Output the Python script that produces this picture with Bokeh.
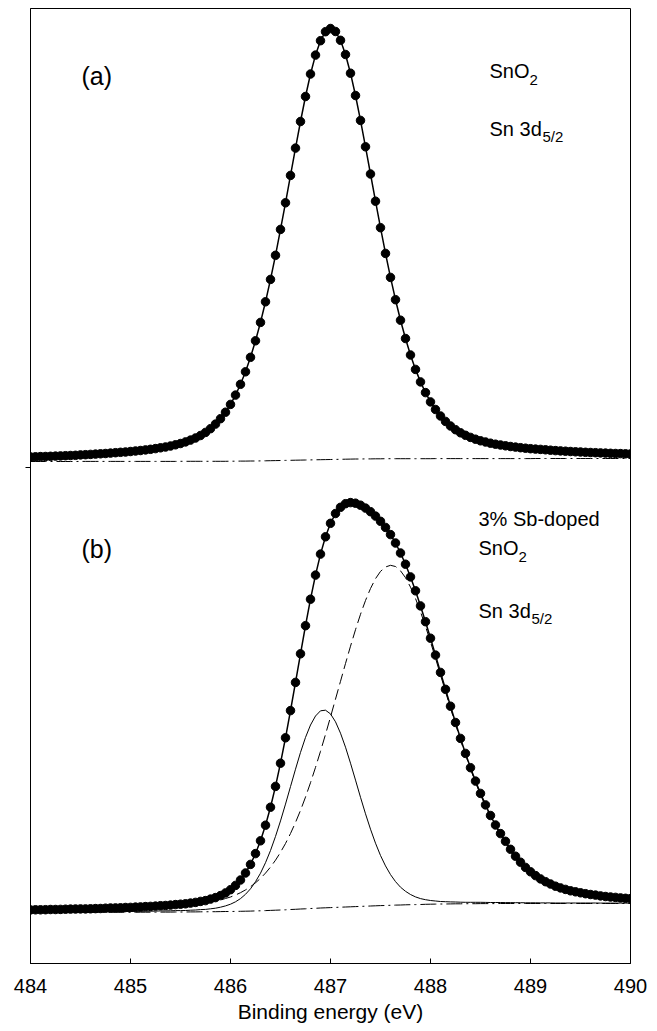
from bokeh.plotting import figure
from bokeh.models import Range1d, LinearAxis, FixedTicker, ColumnDataSource
from bokeh.core.properties import value
from bokeh.embed import file_html
from bokeh.resources import INLINE

# ---------------- data ----------------
# binding energy grid (eV), 0.05 eV step
energy = [round(484 + 0.05 * i, 2) for i in range(121)]

# panel (a): SnO2, Sn 3d5/2 (intensity, a.u.)
a_counts = [
    4.6, 4.7, 4.9, 5.0, 5.2, 5.4, 5.6, 5.8, 6.0, 6.2,
    6.6, 6.8, 7.1, 7.4, 7.7, 8.0, 8.4, 8.8, 9.2, 9.5,
    10.0, 10.5, 11.0, 11.6, 12.2, 12.9, 13.7, 14.5, 15.5, 16.7,
    18.0, 19.6, 21.4, 23.5, 26.0, 29.1, 32.8, 37.4, 42.8, 49.3,
    57.1, 66.4, 77.2, 89.7, 104.2, 120.7, 139.1, 159.7, 182.1, 206.2,
    232.1, 258.7, 286.1, 313.4, 340.0, 365.0, 387.5, 406.4, 420.8, 429.8,
    433.0,
    430.0, 421.2, 407.0, 388.3, 366.0, 341.1, 314.7, 287.5, 260.3, 233.8,
    208.1, 184.1, 161.8, 141.3, 123.0, 106.5, 92.1, 79.6, 68.9, 59.6,
    52.0, 45.5, 40.1, 35.5, 31.8, 28.7, 26.2, 24.1, 22.3, 20.7,
    19.5, 18.3, 17.3, 16.5, 15.7, 15.0, 14.4, 13.8, 13.3, 12.8,
    12.4, 12.1, 11.7, 11.3, 10.9, 10.6, 10.3, 10.0, 9.7, 9.5,
    9.2, 9.0, 8.8, 8.6, 8.4, 8.2, 8.0, 7.9, 7.7, 7.6,
]
a_background = [
    0.0, 0.0, 0.0, 0.0, 0.0, 0.0, 0.0, 0.0, 0.0, 0.0,
    0.1, 0.1, 0.1, 0.1, 0.1, 0.1, 0.1, 0.1, 0.1, 0.1,
    0.1, 0.1, 0.1, 0.1, 0.1, 0.1, 0.1, 0.1, 0.1, 0.1,
    0.2, 0.2, 0.2, 0.2, 0.2, 0.2, 0.2, 0.2, 0.2, 0.2,
    0.3, 0.3, 0.4, 0.4, 0.5, 0.5, 0.6, 0.7, 0.8, 0.9,
    1.0, 1.1, 1.2, 1.3, 1.4, 1.5, 1.6, 1.7, 1.8, 1.9,
    2.0, 2.1, 2.2, 2.3, 2.4, 2.5, 2.5, 2.6, 2.6, 2.7,
    2.7, 2.8, 2.8, 2.8, 2.8, 2.8, 2.8, 2.8, 2.8, 2.8,
    2.8, 2.9, 2.9, 2.9, 2.9, 2.9, 2.9, 2.9, 2.9, 2.9,
    2.9, 2.9, 2.9, 2.9, 2.9, 2.9, 2.9, 2.9, 2.9, 2.9,
    2.9, 3.0, 3.0, 3.0, 3.0, 3.0, 3.0, 3.0, 3.0, 3.0,
    3.0, 3.0, 3.0, 3.0, 3.0, 3.0, 3.0, 3.0, 3.0, 3.0,
    3.0,
]

# panel (b): 3% Sb-doped SnO2, Sn 3d5/2
b_counts = [
    2.6, 2.7, 2.7, 2.8, 3.0, 3.0, 3.1, 3.3, 3.4, 3.5,
    3.6, 3.6, 3.7, 3.9, 4.0, 4.3, 4.5, 4.6, 4.7, 5.0,
    5.1, 5.4, 5.6, 5.9, 6.1, 6.4, 6.8, 7.0, 7.4, 7.9,
    8.3, 8.7, 9.4, 10.1, 11.1, 11.9, 13.4, 14.9, 16.9, 19.6,
    22.8, 27.1, 32.5, 39.5, 48.1, 58.9, 71.7, 87.3, 105.3, 126.1,
    149.3, 174.7, 201.9, 230.1, 258.7, 286.8, 313.3, 337.4, 358.4, 375.7,
    389.2, 399.0, 405.2, 408.8, 409.9, 409.3, 407.3, 404.4, 400.8, 396.4,
    391.2, 385.1, 377.9, 369.5, 359.5, 348.3, 335.6, 321.7, 306.6, 290.8,
    274.3, 257.4, 240.1, 223.2, 206.3, 190.0, 174.1, 159.1, 144.8, 131.4,
    119.1, 107.6, 97.0, 87.5, 78.9, 71.2, 63.2, 56.3, 50.3, 45.1,
    40.7, 36.9, 33.6, 30.8, 28.5, 26.3, 24.6, 23.1, 21.7, 20.7,
    19.7, 18.8, 18.0, 17.4, 16.6, 16.0, 15.5, 15.1, 14.6, 14.2,
    13.9,
]
b_background = [
    0.0, 0.0, 0.0, 0.0, 0.0, 0.0, 0.0, 0.1, 0.1, 0.1,
    0.1, 0.1, 0.1, 0.1, 0.1, 0.2, 0.2, 0.2, 0.2, 0.2,
    0.2, 0.2, 0.3, 0.3, 0.3, 0.3, 0.4, 0.4, 0.4, 0.5,
    0.5, 0.5, 0.6, 0.6, 0.7, 0.7, 0.8, 0.8, 0.9, 1.0,
    1.0, 1.1, 1.2, 1.3, 1.4, 1.6, 1.7, 1.9, 2.1, 2.3,
    2.5, 2.7, 3.0, 3.2, 3.5, 3.7, 4.0, 4.2, 4.5, 4.7,
    4.9, 5.1, 5.3, 5.5, 5.7, 5.9, 6.1, 6.3, 6.5, 6.7,
    6.9, 7.0, 7.2, 7.4, 7.5, 7.7, 7.8, 7.9, 8.0, 8.2,
    8.3, 8.4, 8.5, 8.5, 8.6, 8.7, 8.7, 8.8, 8.8, 8.8,
    8.9, 8.9, 8.9, 8.9, 9.0, 9.0, 9.0, 9.0, 9.0, 9.0,
    9.0, 9.0, 9.0, 9.0, 9.0, 9.0, 9.0, 9.0, 9.0, 9.0,
    9.0, 9.0, 9.0, 9.0, 9.0, 9.0, 9.0, 9.0, 9.0, 9.0,
    9.0,
]
b_comp1 = [  # lower-BE component (solid line)
    0.4, 0.4, 0.4, 0.4, 0.5, 0.5, 0.5, 0.5, 0.5, 0.5,
    0.5, 0.5, 0.5, 0.6, 0.6, 0.6, 0.7, 0.7, 0.7, 0.8,
    0.8, 0.9, 0.9, 1.0, 1.0, 1.1, 1.2, 1.2, 1.3, 1.4,
    1.4, 1.5, 1.7, 1.9, 2.2, 2.4, 2.9, 3.5, 4.4, 5.6,
    7.3, 9.6, 12.7, 16.9, 22.3, 29.2, 37.6, 47.9, 59.9, 73.8,
    89.1, 105.7, 122.9, 140.1, 156.6, 171.4, 183.5, 192.3, 197.2, 197.6,
    193.7, 185.6, 174.0, 159.8, 143.6, 126.5, 109.1, 92.4, 76.8, 62.6,
    50.1, 39.6, 30.7, 23.5, 17.8, 13.5, 10.2, 7.7, 5.9, 4.6,
    3.7, 3.1, 2.5, 2.3, 2.0, 1.8, 1.6, 1.4, 1.4, 1.4,
    1.3, 1.2, 1.1, 1.1, 1.0, 0.9, 0.9, 0.8, 0.8, 0.7,
    0.7, 0.7, 0.6, 0.6, 0.6, 0.5, 0.5, 0.5, 0.5, 0.5,
    0.5, 0.5, 0.5, 0.5, 0.4, 0.4, 0.4, 0.4, 0.4, 0.4,
    0.4,
]
b_comp2 = [  # higher-BE component (dashed line)
    2.2, 2.3, 2.3, 2.4, 2.5, 2.5, 2.6, 2.7, 2.8, 2.9,
    3.0, 3.0, 3.1, 3.2, 3.3, 3.5, 3.6, 3.7, 3.8, 4.0,
    4.1, 4.3, 4.4, 4.6, 4.8, 5.0, 5.2, 5.4, 5.7, 6.0,
    6.4, 6.7, 7.1, 7.6, 8.2, 8.8, 9.7, 10.6, 11.6, 13.0,
    14.5, 16.4, 18.6, 21.3, 24.4, 28.1, 32.4, 37.5, 43.3, 50.0,
    57.7, 66.3, 76.0, 86.8, 98.6, 111.7, 125.8, 140.9, 156.7, 173.4,
    190.6, 208.3, 225.9, 243.5, 260.6, 276.9, 292.1, 305.7, 317.5, 327.1,
    334.2, 338.5, 340.0, 338.6, 334.2, 327.1, 317.6, 306.1, 292.7, 278.0,
    262.3, 245.9, 229.1, 212.4, 195.7, 179.5, 163.8, 148.9, 134.6, 121.2,
    108.9, 97.5, 87.0, 77.5, 68.9, 61.3, 53.3, 46.5, 40.5, 35.4,
    31.0, 27.2, 24.0, 21.2, 18.9, 16.8, 15.1, 13.6, 12.2, 11.2,
    10.2, 9.3, 8.5, 7.9, 7.2, 6.6, 6.1, 5.7, 5.2, 4.8,
    4.5,
]

x_ticks = [484, 485, 486, 487, 488, 489, 490]
x_title = "Binding energy (eV)"
panel_tags = ["(a)", "(b)"]
a_notes = ["SnO", "2", "Sn 3d", "5/2"]
b_notes = ["3% Sb-doped", "SnO", "2", "Sn 3d", "5/2"]

# ---------------- layout constants ----------------
OFF_A = 502      # vertical offset of panel (a) in stacked plot units
OFF_B = 51       # vertical offset of panel (b)
SPLIT = 496      # panel boundary tick
FONT = "Liberation Sans"
FS = "20px"
FS_TAG = "25px"
FS_SUB = "15px"

p = figure(width=657, height=1031, output_backend="svg", toolbar_location=None,
           x_range=Range1d(484, 490), y_range=Range1d(0, 955),
           min_border_left=30, min_border_right=27, min_border_top=8,
           min_border_bottom=68, x_axis_location=None, y_axis_location=None)
p.background_fill_color = "white"
p.border_fill_color = "white"
p.outline_line_color = "black"
p.outline_line_width = 1
p.xgrid.grid_line_color = None
p.ygrid.grid_line_color = None

xa = LinearAxis(ticker=FixedTicker(ticks=x_ticks), axis_label=x_title)
xa.major_tick_in = 5
xa.major_tick_out = 0
xa.minor_tick_line_color = None
xa.major_label_text_font = FONT
xa.major_label_text_font_size = FS
xa.major_label_text_color = "black"
xa.major_label_standoff = 15
xa.axis_label_text_font = FONT
xa.axis_label_text_font_size = "21px"
xa.axis_label_text_font_style = "normal"
xa.axis_label_text_color = "black"
xa.axis_label_standoff = 4
xa.axis_line_color = "black"
p.add_layout(xa, "below")

ya = LinearAxis(ticker=FixedTicker(ticks=[SPLIT]))
ya.major_tick_out = 5
ya.major_tick_in = 0
ya.minor_tick_line_color = None
ya.major_label_overrides = {SPLIT: ""}
ya.major_label_text_font_size = "1px"
ya.axis_line_color = "black"
p.add_layout(ya, "left")

# panel (a)
src_a = ColumnDataSource(dict(
    x=energy,
    y=[v + OFF_A for v in a_counts],
    bg=[v + OFF_A for v in a_background],
))
p.line("x", "bg", source=src_a, line_color="black", line_width=1, line_dash="16 4 2 4")
p.line("x", "y", source=src_a, line_color="black", line_width=1.5)
p.scatter("x", "y", source=src_a, size=8.5, fill_color="black", line_color="black")

# panel (b)
fit_b = [bg + c1 + c2 for bg, c1, c2 in zip(b_background, b_comp1, b_comp2)]
src_b = ColumnDataSource(dict(
    x=energy,
    y=[v + OFF_B for v in b_counts],
    fit=[v + OFF_B for v in fit_b],
    bg=[v + OFF_B for v in b_background],
    c1=[bg + c + OFF_B for bg, c in zip(b_background, b_comp1)],
    c2=[bg + c + OFF_B for bg, c in zip(b_background, b_comp2)],
))
p.line("x", "bg", source=src_b, line_color="black", line_width=1, line_dash="16 4 2 4")
p.line("x", "c1", source=src_b, line_color="black", line_width=1)
p.line("x", "c2", source=src_b, line_color="black", line_width=1, line_dash="11 5")
p.line("x", "fit", source=src_b, line_color="black", line_width=1.5)
p.scatter("x", "y", source=src_b, size=8.5, fill_color="black", line_color="black")

# ---------------- text annotations ----------------
def txt(x, y, s, size=FS, dx=0, dy=0):
    p.text(x=[x], y=[y], text=[s], text_font=value(FONT), text_font_size=size,
           text_color="black", text_baseline="alphabetic", text_align="left",
           x_offset=dx, y_offset=dy)

txt(484.51, 888, panel_tags[0], size=FS_TAG)
txt(488.59, 893, a_notes[0])
txt(488.59, 893, a_notes[1], size=FS_SUB, dx=40, dy=9)
txt(488.59, 835, a_notes[2])
txt(488.59, 835, a_notes[3], size=FS_SUB, dx=53, dy=8)

txt(484.51, 415, panel_tags[1], size=FS_TAG)
txt(488.48, 445, b_notes[0])
txt(488.48, 416, b_notes[1])
txt(488.48, 416, b_notes[2], size=FS_SUB, dx=40, dy=9)
txt(488.48, 353, b_notes[3])
txt(488.48, 353, b_notes[4], size=FS_SUB, dx=53, dy=8)

open("out.html", "w").write(file_html(p, INLINE))
